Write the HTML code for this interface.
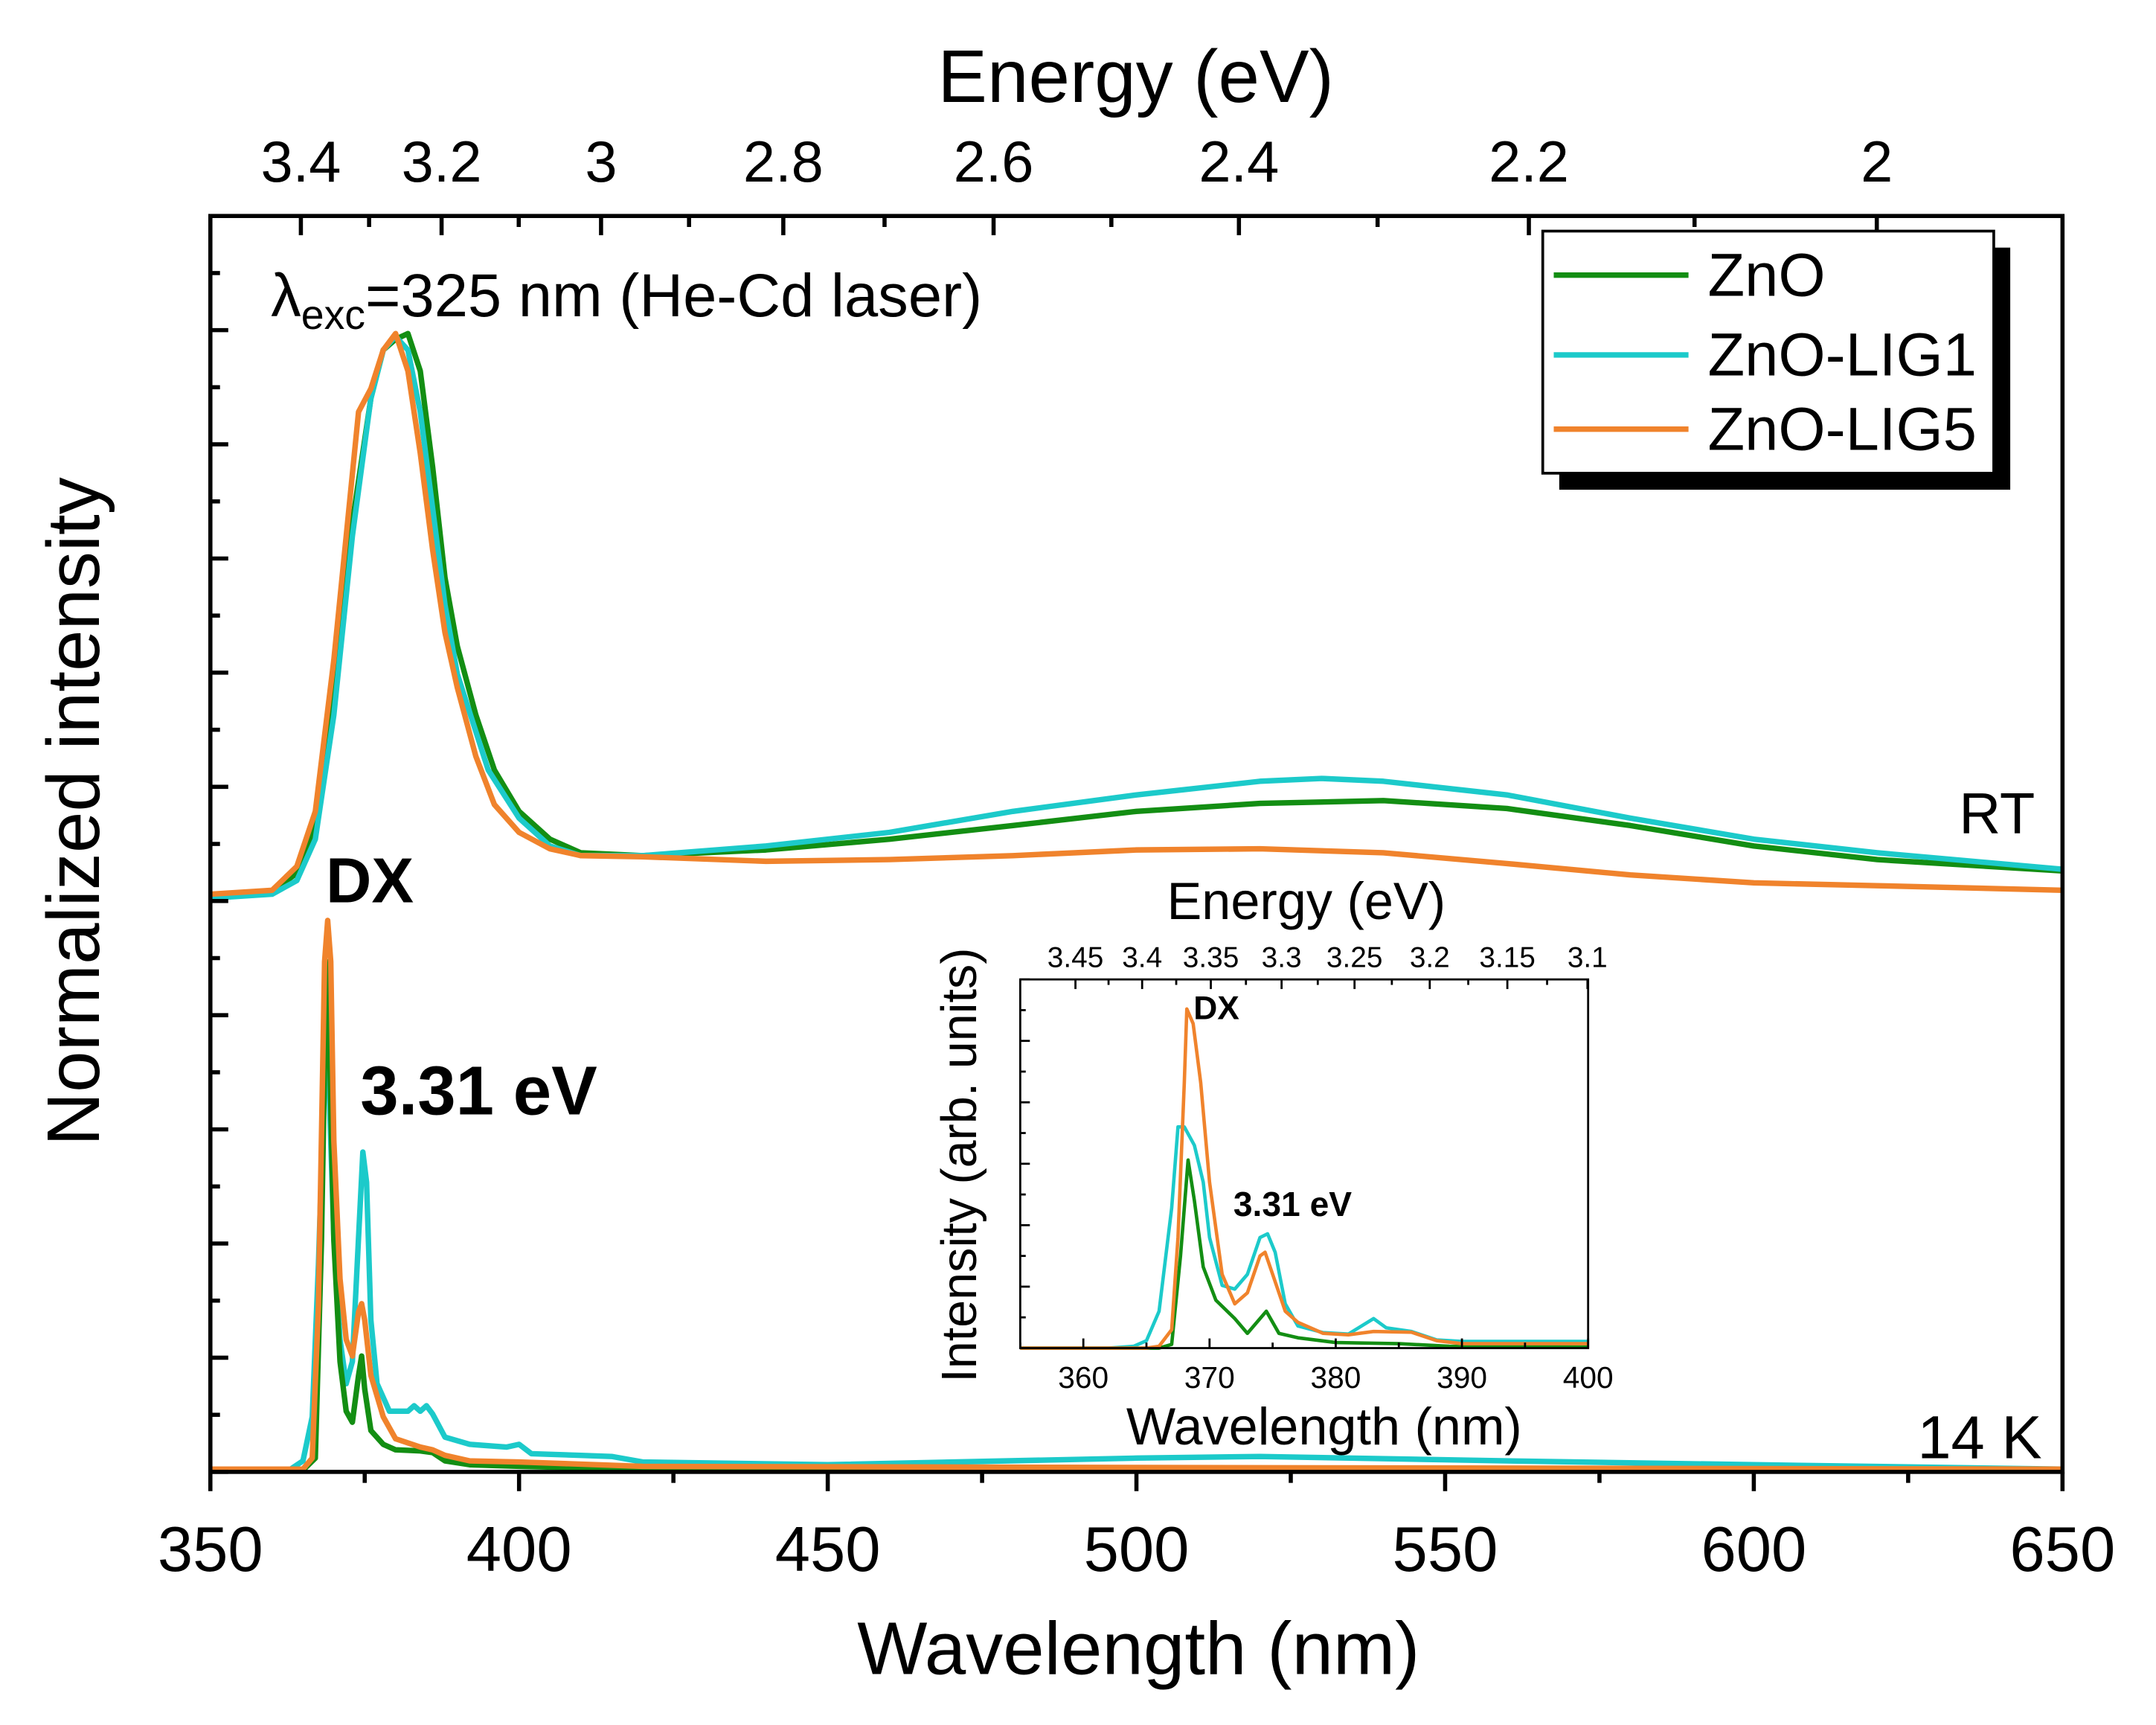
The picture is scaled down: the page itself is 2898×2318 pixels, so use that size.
<!DOCTYPE html>
<html><head><meta charset="utf-8"><style>
html,body{margin:0;padding:0;background:#fff}
svg{display:block;font-family:"Liberation Sans",Arial,sans-serif}
</style></head><body>
<svg id="chart" width="2898" height="2318" viewBox="0 0 1568 1254" preserveAspectRatio="none" xmlns="http://www.w3.org/2000/svg">
<g id="main"></g>
<g id="inset"></g>
</svg>
<script>
// ---- main data (RT curves normalized to 100, 14K curves normalized to 100) ----
const rtGreenX=[350,360,364,367,370,373,376,378,380,382,384,386,388,390,393,396,400,405,410,420,440,460,480,500,520,540,560,580,600,620,650];
const rtGreenY=[1.0,1.7,4.9,13.3,37.6,66.7,88.6,97.1,99,100,93.4,76.5,57,44.9,32.8,23.1,15.8,10.9,8.5,8.0,9.0,10.9,13.3,15.8,17.2,17.7,16.3,13.3,9.7,7.3,5.3];
const rtCyanX=[350,360,364,367,370,373,376,378,380,382,384,386,388,390,395,400,405,410,420,440,460,480,500,520,530,540,560,580,600,620,650];
const rtCyanY=[0.5,1.2,3.6,10.9,32.8,64.3,88.6,97.1,99.5,97.1,86.2,69.2,52.2,40,23.1,14.6,9.7,8.0,8.0,9.7,12.1,15.8,18.7,21.1,21.6,21.1,18.7,14.6,10.9,8.5,5.6];
const rtOrangeX=[350,360,364,367,370,372,374,376,378,380,382,384,386,388,390,393,396,400,405,410,420,440,460,480,500,520,540,560,580,600,620,650];
const rtOrangeY=[1.2,1.9,6.1,15.8,42.5,64.3,86.2,90.3,97.1,100,93.4,78.9,61.9,47.3,37.6,25.5,17,12.1,9.2,8.0,7.8,7.0,7.3,8.0,9.0,9.2,8.5,6.6,4.6,3.2,2.7,1.9];
const lowGreenX=[350,365,367,368,368.7,369,370,371,372,373,374,374.5,375,376,378,380,384,386,388,392,400,420,650];
const lowGreenY=[0.3,0.3,2.5,42,87,92.5,42,20,11,9,17.5,21,15,7.5,5,4,3.8,3.5,2,1.3,1,0.5,0.3];
const lowOrangeX=[350,365,366.5,367.5,368.5,369,369.5,370,371,372,373,374,374.5,375,376,378,380,384,386,388,392,400,420,500,650];
const lowOrangeY=[0.5,0.5,2.5,30,92.5,100,92.5,60,35,24,21,29,30.5,27.5,17.5,10,6,4.5,4,3,2,1.8,1,0.8,0.5];
const lowCyanX=[350,363,365,366.5,367.5,368.5,369,370,371,372,373,374,374.7,375.3,376,377,379,382,383,384,385,386,388,392,398,400,402,410,415,420,450,500,520,560,600,650];
const lowCyanY=[0.3,0.5,2,10,37.5,72.5,77.5,42.5,24,16,20,42.5,58,52.5,27.5,16,11,11,12,11,12,10.5,6.3,5,4.5,5,3.3,3,2.8,1.8,1.3,2.5,2.8,2,1.3,0.5];
const xTicks=[350,400,450,500,550,600,650];
const eTicks=[3.4,3.2,3.0,2.8,2.6,2.4,2.2,2.0];
const eTickLabels=["3.4","3.2","3","2.8","2.6","2.4","2.2","2"];
// ---- inset data ----
const inGreenX=[355,366,367,367.7,368.3,368.8,369.5,370.5,372,373,374,374.5,375.5,377,380,385,389,400];
const inGreenY=[0,0,1,25,51,40,22,13,8,4,8,10,4,2.8,1.5,1.2,0.5,0.3];
const inCyanX=[355,362,364,365,366,367,367.5,368,368.8,369.5,370,371,372,373,374,374.6,375.2,376,377,379,381,383,384,386,388,390,400];
const inCyanY=[0,0,0.5,2,10,38,60,60,55,45,30,17,16,20,30,31,26,12,6,4.2,3.8,8,5.5,4.5,2.2,1.8,1.8];
const inOrangeX=[355,365,366,367,367.5,368,368.2,368.7,369.3,370,371,372,373,374,374.4,375,376,377,379,381,383,386,388,390,400];
const inOrangeY=[0,0,0.5,5,30,72,92,88,72,45,20,12,15,25,26,20,10,7,4,3.6,4.5,4.3,2,1.2,1.2];
const inXTicks=[360,370,380,390,400];
const inETicks=[3.45,3.4,3.35,3.3,3.25,3.2,3.15,3.1];
const inETickLabels=["3.45","3.4","3.35","3.3","3.25","3.2","3.15","3.1"];

const NS="http://www.w3.org/2000/svg";
function mk(parent,tag,attrs){const e=document.createElementNS(NS,tag);for(const k in attrs)e.setAttribute(k,attrs[k]);parent.appendChild(e);return e;}
const GREEN="#138e13",CYAN="#1ccaca",ORANGE="#f0832c";
const main=document.getElementById('main');
const L=153,R=1500,T=157,B=1070;
const xs=w=>L+(w-350)/300*(R-L);
const unit=(B-T)/11;
const ys=u=>B-u*unit;
function line(g,x1,y1,x2,y2,w){return mk(g,'line',{x1,y1,x2,y2,stroke:'#000','stroke-width':w});}
function text(g,x,y,s,size,anchor,weight){const t=mk(g,'text',{x,y,'font-size':size,'text-anchor':anchor||'start','font-weight':weight||'normal',fill:'#000'});t.textContent=s;return t;}
function curve(g,X,Y,fx,fy,color,w){let d='';for(let i=0;i<X.length;i++)d+=(i?'L':'M')+fx(X[i]).toFixed(2)+','+fy(Y[i]).toFixed(2);return mk(g,'path',{d,fill:'none',stroke:color,'stroke-width':w,'stroke-linejoin':'round'});}

let c;
c=curve(main,lowCyanX,lowCyanY,xs,v=>ys(v/100*4.83),CYAN,4);

c=curve(main,lowGreenX,lowGreenY,xs,v=>ys(v/100*4.83),GREEN,4);

c=curve(main,lowOrangeX,lowOrangeY,xs,v=>ys(v/100*4.83),ORANGE,4);

c=curve(main,rtGreenX,rtGreenY,xs,v=>ys(5+v/100*4.97),GREEN,4);

c=curve(main,rtCyanX,rtCyanY,xs,v=>ys(5+v/100*4.97),CYAN,4);

c=curve(main,rtOrangeX,rtOrangeY,xs,v=>ys(5+v/100*4.97),ORANGE,4);


let fr=mk(main,'rect',{x:L,y:T,width:R-L,height:B-T,fill:'none',stroke:'#000','stroke-width':3});

for(let w=350;w<=650;w+=25){const maj=(w%50===0);line(main,xs(w),B,xs(w),B+(maj?14:8),3);}
xTicks.forEach(w=>{const t=text(main,xs(w),1142,String(w),46,'middle');});
let xt=text(main,828,1217,'Wavelength (nm)',54,'middle');

for(let e=3.4;e>=1.95;e-=0.1){const ee=Math.round(e*10)/10;const maj=Math.round(ee*10)%2===0;line(main,xs(1239.84/ee),T,xs(1239.84/ee),T+(maj?14:8),3);}
eTicks.forEach((e,i)=>{const t=text(main,xs(1239.84/e),132,eTickLabels[i],42,'middle');});
let et=text(main,826,74,'Energy (eV)',54,'middle');

for(let u=0;u<=11;u+=0.5){const maj=Number.isInteger(u);line(main,L,ys(u),L+(maj?13:7),ys(u),3);}
let yt=text(main,0,0,'Normalized intensity',54,'middle');
yt.setAttribute('transform','translate(72,590) rotate(-90)');

let lam=mk(main,'text',{x:197,y:230,'font-size':44,fill:'#000'});
lam.innerHTML='λ<tspan font-size="30" dy="9">exc</tspan><tspan dy="-9">=325 nm (He-Cd laser)</tspan>';

let a;
a=text(main,237,656,'DX',46,'start','bold');
a=text(main,262,810,'3.31 eV',50,'start','bold');
a=text(main,1480,606,'RT',42,'end');
a=text(main,1485,1060,'14 K',44,'end');
const lg=mk(main,'g',{});

mk(lg,'rect',{x:1134,y:180,width:328,height:176,fill:'#000'});
mk(lg,'rect',{x:1122,y:168,width:328,height:176,fill:'#fff',stroke:'#000','stroke-width':2});
[['ZnO',GREEN,200],['ZnO-LIG1',CYAN,258],['ZnO-LIG5',ORANGE,312]].forEach(r=>{
 const le=mk(lg,'g',{});
 
 mk(le,'line',{x1:1130,y1:r[2],x2:1228,y2:r[2],stroke:r[1],'stroke-width':4});
 text(le,1242,r[2]+15,r[0],44);
});

// ---- inset ----
const ins=document.getElementById('inset');
const iL=742,iR=1155,iT=712,iB=980;
const ixs=w=>iL+(w-355)/45*(iR-iL);
const iys=v=>iB-v/100*(iB-iT);
c=curve(ins,inCyanX,inCyanY,ixs,iys,CYAN,2.5);
c=curve(ins,inGreenX,inGreenY,ixs,iys,GREEN,2.5);
c=curve(ins,inOrangeX,inOrangeY,ixs,iys,ORANGE,2.5);
fr=mk(ins,'rect',{x:iL,y:iT,width:iR-iL,height:iB-iT,fill:'none',stroke:'#000','stroke-width':1.5});

for(let w=355;w<=400;w+=5){const maj=(w%10===0);line(ins,ixs(w),iB,ixs(w),iB-(maj?7:4),1.5);}
inXTicks.forEach(w=>{const t=text(ins,ixs(w),1009,String(w),22,'middle');});
for(let e=3.45;e>=3.095;e-=0.025){const ee=Math.round(e*1000)/1000;const maj=Math.round(ee*1000)%50===0;line(ins,ixs(1239.84/ee),iT,ixs(1239.84/ee),iT+(maj?7:4),1.5);}
inETicks.forEach((e,i)=>{const t=text(ins,ixs(1239.84/e),703,inETickLabels[i],21,'middle');});
for(let k=0;k<=12;k++){line(ins,iL,iB-k*(iB-iT)/12,iL+(k%2===0?7:4),iB-k*(iB-iT)/12,1.5);}
a=text(ins,950,668,'Energy (eV)',38,'middle');
a=text(ins,963,1050,'Wavelength (nm)',38,'middle');
a=text(ins,0,0,'Intensity (arb. units)',36,'middle');a.setAttribute('transform','translate(710,847) rotate(-90)');
a=text(ins,868,741,'DX',24,'start','bold');
a=text(ins,897,884,'3.31 eV',25,'start','bold');
</script>
</body></html>
